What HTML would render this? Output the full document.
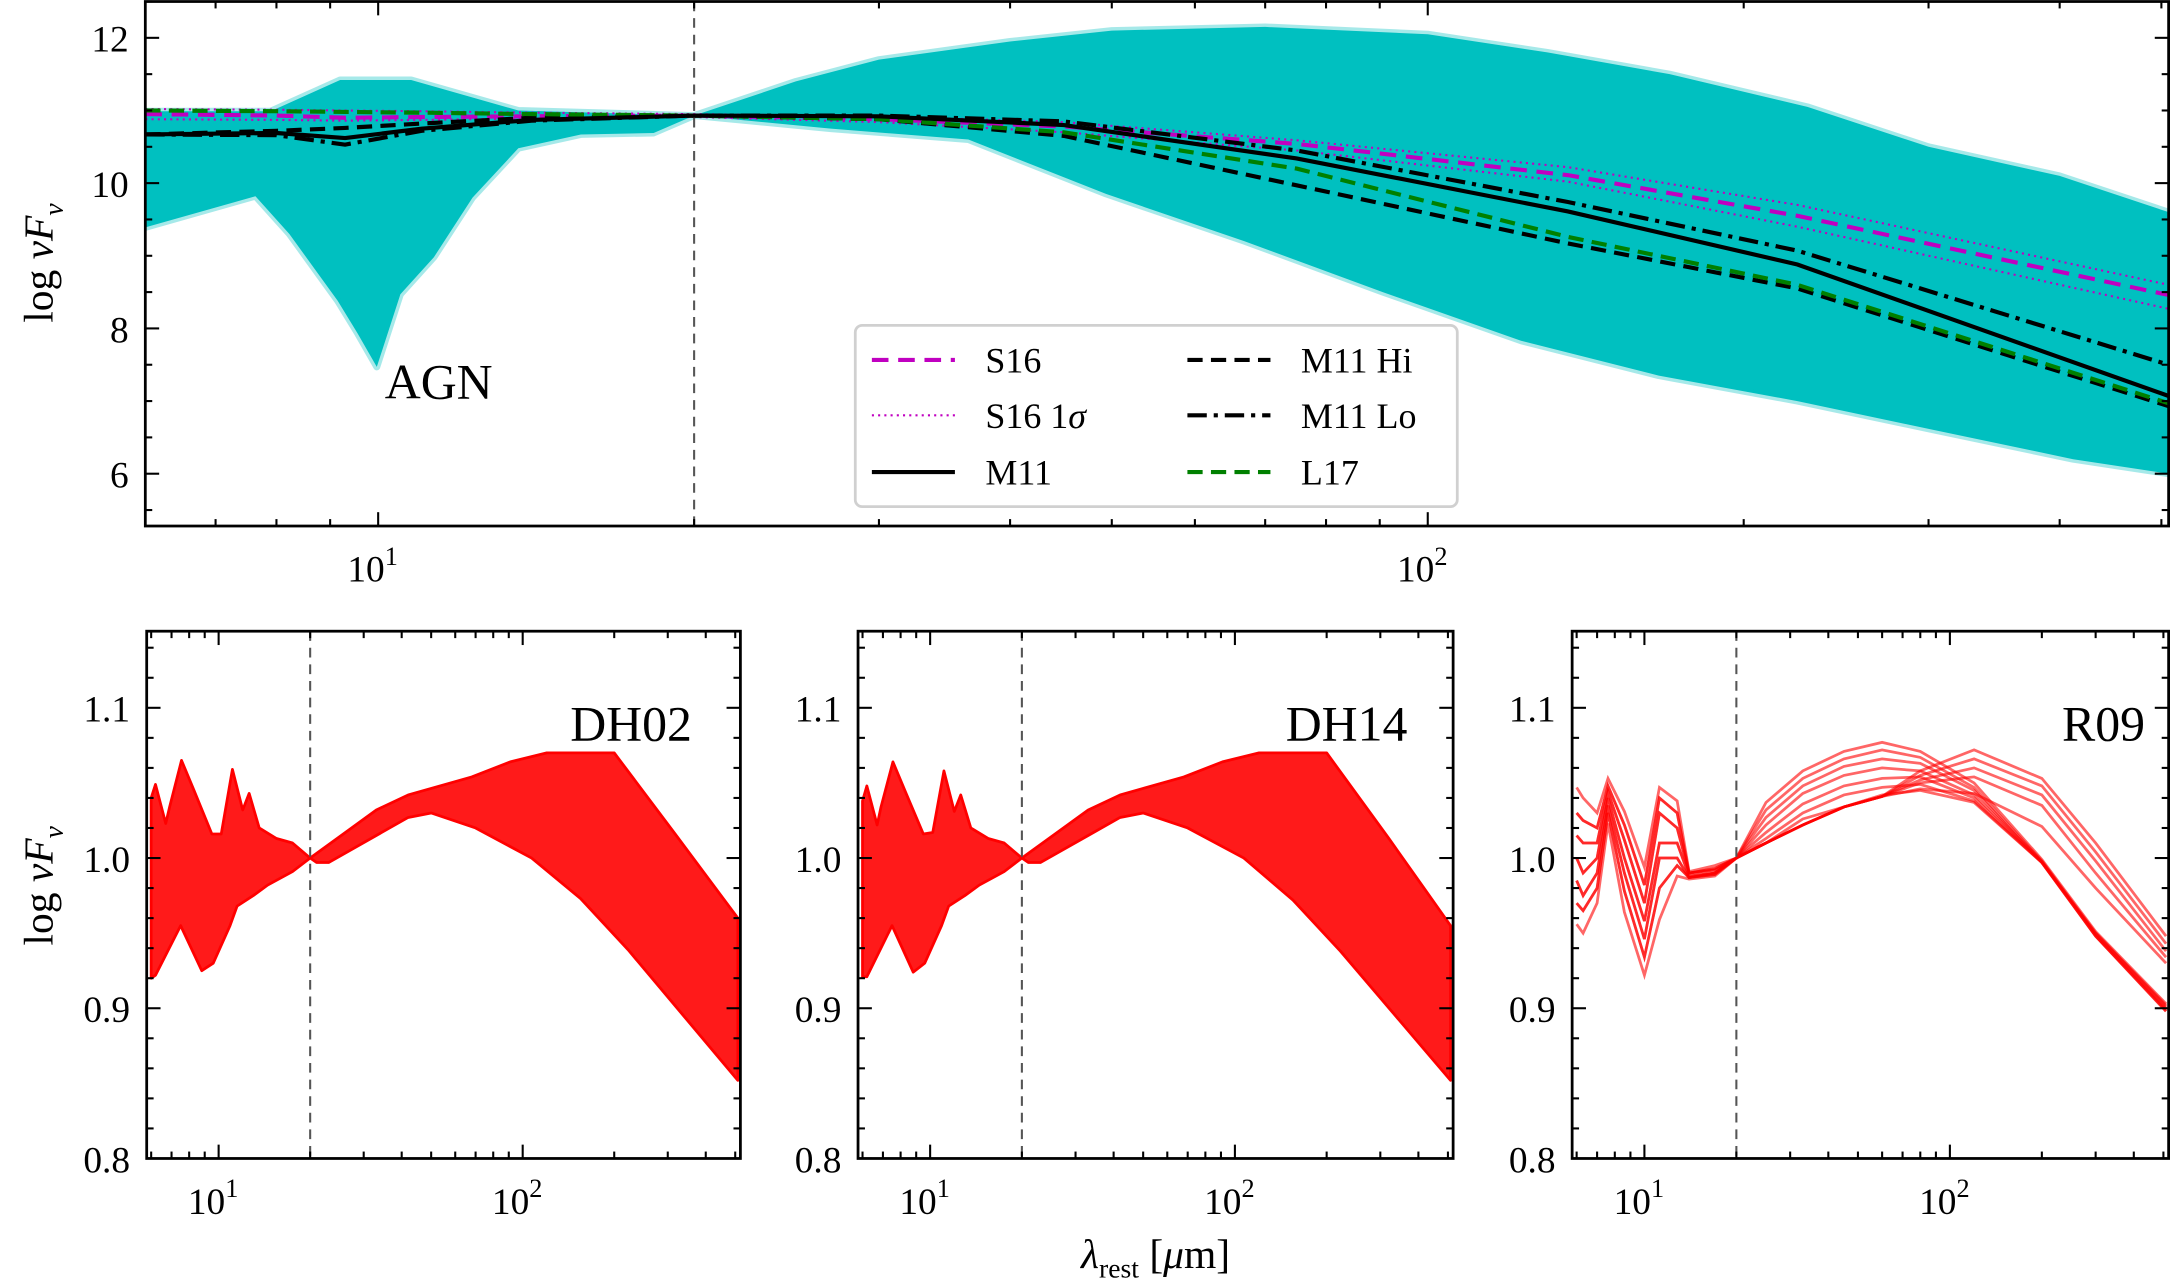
<!DOCTYPE html>
<html><head><meta charset="utf-8"><style>
html,body{margin:0;padding:0;background:#fff;}
svg{display:block;font-family:"Liberation Serif","DejaVu Serif",serif;}
</style></head><body>
<svg id="fig" xmlns="http://www.w3.org/2000/svg" width="2170" height="1279" viewBox="0 0 1568 924"></svg>
<script>
// ---------- data: top (AGN) panel ----------
const agnUpperLam = [6,7.9,9.2,10.75,13.6,20,25,30,40,50,70,100,130,170,230,300,400,508];
const agnUpperVal = [10.99,10.99,11.42,11.42,11.0,10.93,11.4,11.7,11.95,12.1,12.15,12.05,11.8,11.5,11.05,10.5,10.1,9.6];
const agnLowerLam = [6,7.64,8.23,9.15,9.56,9.97,10.5,11.3,12.3,13.6,15.6,18.3,20,27,36.5,49.4,66.9,90.6,122.7,166,225,304,412,508];
const agnLowerVal = [9.39,9.82,9.3,8.38,7.93,7.47,8.47,8.98,9.8,10.48,10.67,10.69,10.93,10.75,10.6,9.85,9.2,8.5,7.83,7.35,7.0,6.6,6.2,6.0];
const lineLam = [6,8,9.3,11,14,20,30,45,75,136,225,508];
const s16 =   [10.95,10.93,10.9,10.91,10.92,10.93,10.88,10.78,10.54,10.11,9.55,8.46];
const s16Hi = [11.02,11.01,11.0,10.99,10.97,10.95,10.92,10.84,10.59,10.22,9.7,8.6];
const s16Lo = [10.88,10.87,10.86,10.87,10.89,10.91,10.84,10.7,10.45,10.02,9.4,8.27];
const m11 =   [10.67,10.69,10.62,10.75,10.87,10.93,10.92,10.8,10.34,9.61,8.88,7.07];
const m11Lo = [10.67,10.66,10.53,10.72,10.86,10.93,10.93,10.85,10.45,9.74,9.07,7.5];
const m11Hi = [10.67,10.72,10.76,10.82,10.9,10.93,10.88,10.65,9.97,9.17,8.55,6.93];
const l17 =   [11.0,10.99,10.98,10.97,10.95,10.93,10.88,10.7,10.2,9.26,8.6,6.97];
const topYTicks = [6,8,10,12];
const bottomYTicks = [0.8,0.9,1.0,1.1];
// ---------- data: DH02 / DH14 bands ----------
const dhUpperLam = [6,6.2,6.7,6.9,7.55,8.3,9.5,10.2,11.1,12,12.6,13.6,15.5,17.5,20,25.7,33,42,68,91,120,200,320,510];
const dh02UpperVal = [1.04,1.049,1.023,1.034,1.065,1.045,1.016,1.016,1.059,1.032,1.043,1.02,1.013,1.01,1.0,1.016,1.032,1.042,1.054,1.064,1.07,1.07,1.015,0.96];
const dhLowerLam = [6,6.2,7.5,8.8,9.6,10.9,11.5,13,14.5,17.5,20,21,23,27,33,42,50,70,107,155,222,510];
const dh02LowerVal = [0.92,0.922,0.955,0.925,0.93,0.955,0.968,0.975,0.982,0.991,1.0,0.997,0.997,1.005,1.015,1.027,1.03,1.02,1.0,0.973,0.939,0.852];
const dh14UpperVal = [1.038,1.048,1.022,1.034,1.064,1.044,1.016,1.017,1.058,1.031,1.042,1.02,1.013,1.01,1.0,1.016,1.032,1.042,1.054,1.064,1.07,1.07,1.013,0.955];
const dh14LowerVal = [0.921,0.921,0.955,0.924,0.93,0.955,0.968,0.975,0.982,0.991,1.0,0.997,0.997,1.005,1.015,1.027,1.03,1.02,1.0,0.972,0.938,0.852];
// ---------- data: R09 ----------
const r09Lam = [6,6.3,7.0,7.6,8.6,10,11.2,12.8,14,17,20,25,33,45,60,80,120,200,300,510];
const r09Lines = [
 [1.047,1.04,1.03,1.053,1.031,0.994,1.047,1.038,0.991,0.995,1.0,1.037,1.058,1.071,1.077,1.071,1.05,0.999,0.951,0.903],
 [1.03,1.025,1.02,1.048,1.022,0.982,1.04,1.03,0.99,0.993,1.0,1.032,1.053,1.066,1.072,1.067,1.047,0.998,0.95,0.902],
 [1.015,1.01,1.01,1.044,1.012,0.97,1.03,1.02,0.99,0.992,1.0,1.027,1.048,1.061,1.066,1.063,1.045,0.997,0.95,0.901],
 [1.0,0.99,1.0,1.04,1.0,0.958,1.01,1.01,0.988,0.99,1.0,1.022,1.043,1.055,1.06,1.058,1.042,0.998,0.949,0.9],
 [0.985,0.975,0.99,1.035,0.99,0.946,1.0,1.0,0.987,0.99,1.0,1.017,1.036,1.048,1.053,1.054,1.04,0.997,0.948,0.899],
 [0.97,0.965,0.98,1.03,0.978,0.934,0.98,0.995,0.987,0.989,1.0,1.013,1.03,1.042,1.047,1.049,1.038,0.997,0.948,0.898],
 [0.956,0.95,0.97,1.023,0.964,0.922,0.959,0.988,0.986,0.988,1.0,1.01,1.026,1.034,1.042,1.045,1.037,0.997,0.948,0.898],
 [1.03,1.025,1.02,1.048,1.022,0.982,1.04,1.03,0.99,0.993,1.0,1.01,1.022,1.034,1.041,1.058,1.072,1.053,1.01,0.948],
 [1.015,1.01,1.01,1.044,1.012,0.97,1.03,1.02,0.99,0.992,1.0,1.01,1.022,1.034,1.041,1.055,1.066,1.048,1.004,0.943],
 [1.0,0.99,1.0,1.04,1.0,0.958,1.01,1.01,0.988,0.99,1.0,1.01,1.022,1.034,1.041,1.052,1.06,1.042,0.998,0.938],
 [0.985,0.975,0.99,1.035,0.99,0.946,1.0,1.0,0.987,0.99,1.0,1.01,1.022,1.034,1.041,1.05,1.054,1.035,0.99,0.934],
 [0.97,0.965,0.98,1.03,0.978,0.934,0.98,0.995,0.987,0.989,1.0,1.01,1.022,1.034,1.041,1.046,1.043,1.021,0.98,0.93]
];

const NS="http://www.w3.org/2000/svg";
const svgRoot=document.getElementById('fig');
function mk(tag,attrs,parent){const e=document.createElementNS(NS,tag);for(const k in attrs)e.setAttribute(k,attrs[k]);(parent||svgRoot).appendChild(e);return e;}
function makeAxes(x0,x1,y0,y1,xmin,xmax,ymin,ymax){
  const lx=v=>x0+(Math.log10(v)-Math.log10(xmin))/(Math.log10(xmax)-Math.log10(xmin))*(x1-x0);
  const ly=v=>y1-(v-ymin)/(ymax-ymin)*(y1-y0);
  return {sx:lx,sy:ly,x0:x0,x1:x1,y0:y0,y1:y1,xmin:xmin,xmax:xmax};
}
function pathD(ax,lam,val){return lam.map((l,i)=>(i?'L':'M')+ax.sx(l).toFixed(2)+','+ax.sy(val[i]).toFixed(2)).join('');}
function drawFrame(ax,name,yticks,minorStep,ymin,ymax,fmt,showXLabels){
  const g=mk('g',{});
  
  
  const clip=mk('clipPath',{id:'clip-'+name},g);
  mk('rect',{x:ax.x0,y:ax.y0,width:ax.x1-ax.x0,height:ax.y1-ax.y0},clip);
  for(let d=1;d<=100;d*=10){for(let m=1;m<10;m++){const v=d*m;if(v<ax.xmin||v>ax.xmax)continue;
    const x=ax.sx(v);const L=(m===1)?10:5;
    mk('line',{x1:x,y1:ax.y1,x2:x,y2:ax.y1-L,stroke:'#000','stroke-width':1.5},g);
    mk('line',{x1:x,y1:ax.y0,x2:x,y2:ax.y0+L,stroke:'#000','stroke-width':1.5},g);
    if(m===1&&showXLabels){const t=mk('text',{x:x-4,y:ax.y1+40,'font-size':27,'text-anchor':'middle'},g);
      t.textContent='10';const s=mk('tspan',{dy:-12,'font-size':19},t);s.textContent=(d===10?'1':'2');
      }
  }}
  for(let v=ymin;v<=ymax+1e-9;v+=minorStep){const y=ax.sy(v);
    const major=yticks.some(t=>Math.abs(t-v)<1e-6);const L=major?10:5;
    mk('line',{x1:ax.x0,y1:y,x2:ax.x0+L,y2:y,stroke:'#000','stroke-width':1.5},g);
    mk('line',{x1:ax.x1,y1:y,x2:ax.x1-L,y2:y,stroke:'#000','stroke-width':1.5},g);
  }
  yticks.forEach(v=>{const t=mk('text',{x:ax.x0-12,y:ax.sy(v)+10,'font-size':27,'text-anchor':'end'},g);t.textContent=fmt(v);
    });
  mk('rect',{x:ax.x0,y:ax.y0,width:ax.x1-ax.x0,height:ax.y1-ax.y0,fill:'none',stroke:'#000','stroke-width':2},g);
  return g;
}
function vdash(ax,g){mk('line',{x1:ax.sx(20),y1:ax.y0,x2:ax.sx(20),y2:ax.y1,stroke:'#555','stroke-width':1.5,'stroke-dasharray':'7,5'},g);}

// ---------- top panel ----------
const topAx=makeAxes(105,1567,1,380,6,508,5.28,12.5);
const topFrame=drawFrame(topAx,'agn',topYTicks,0.5,5.5,12.5,v=>String(v),true);
const topPlot=mk('g',{'clip-path':'url(#clip-agn)'});


svgRoot.insertBefore(topPlot,topFrame);
const bandD=pathD(topAx,agnUpperLam,agnUpperVal)+pathD(topAx,agnLowerLam.slice().reverse(),agnLowerVal.slice().reverse()).replace('M','L')+'Z';
const band=mk('path',{d:bandD,fill:'#00c0c0',stroke:'rgba(0,192,192,0.35)','stroke-width':5,'stroke-linejoin':'round'},topPlot);


const series=[
 ['s16-hi-line',s16Hi,'#c000c0',1.5,'1.5,3'],
 ['s16-lo-line',s16Lo,'#c000c0',1.5,'1.5,3'],
 ['s16-line',s16,'#c000c0',3,'12,7'],
 ['m11-hi-line',m11Hi,'#000',3,'11,6'],
 ['l17-line',l17,'#008000',3,'11,6'],
 ['m11-lo-line',m11Lo,'#000',3,'14,5,3,5'],
 ['m11-line',m11,'#000',3,'none']];
series.forEach(s=>{const p=mk('path',{d:pathD(topAx,lineLam,s[1]),fill:'none',stroke:s[2],'stroke-width':s[3],'stroke-dasharray':s[4]},topPlot);
  });
vdash(topAx,topPlot);
const agnT=mk('text',{x:317,y:288,'font-size':36,'text-anchor':'middle'});agnT.textContent='AGN';

const ylab1=mk('text',{x:38,y:190,'font-size':30,'text-anchor':'middle',transform:'rotate(-90 38 190)'});

ylab1.innerHTML='log <tspan font-style="italic">νF</tspan><tspan font-style="italic" font-size="20" dy="7">ν</tspan>';

// legend
const lg=mk('g',{});


mk('rect',{x:618,y:235,width:435,height:131,rx:5,fill:'rgba(255,255,255,0.85)',stroke:'#d0d0d0','stroke-width':2},lg);
const legItems=[['S16','#c000c0',3,'12,7',630,260],['S16 1σ','#c000c0',1.5,'1.5,3',630,300],['M11','#000',3,'none',630,341],
 ['M11 Hi','#000',3,'11,6',858,260],['M11 Lo','#000',3,'14,5,3,5',858,300],['L17','#008000',3,'11,6',858,341]];
legItems.forEach(e=>{const it=mk('g',{},lg);
  
  mk('line',{x1:e[4],y1:e[5],x2:e[4]+60,y2:e[5],stroke:e[1],'stroke-width':e[2],'stroke-dasharray':e[3]},it);
  const t=mk('text',{x:e[4]+82,y:e[5]+9,'font-size':26},it);
  if(e[0]==='S16 1σ'){t.innerHTML='S16 1<tspan font-style="italic">σ</tspan>';}else t.textContent=e[0];});

// ---------- bottom panels ----------
function dhPanel(name,x0,x1,upV,loV,label,labelX){
  const ax=makeAxes(x0,x1,456,837,5.8,520,0.8,1.151);
  const fg=drawFrame(ax,name,bottomYTicks,0.02,0.8,1.15,v=>v.toFixed(1),true);
  const pg=mk('g',{'clip-path':'url(#clip-'+name+')'});
  
  svgRoot.insertBefore(pg,fg);
  const d=pathD(ax,dhUpperLam,upV)+pathD(ax,dhLowerLam.slice().reverse(),loV.slice().reverse()).replace('M','L')+'Z';
  const b=mk('path',{d:d,fill:'#ff1a1a',stroke:'#ff0000','stroke-width':2,'stroke-linejoin':'round'},pg);
  
  vdash(ax,pg);
  const t=mk('text',{x:labelX,y:535,'font-size':36,'text-anchor':'end'});t.textContent=label;
  
  return ax;
}
dhPanel('dh02',106,535,dh02UpperVal,dh02LowerVal,'DH02',500);
dhPanel('dh14',620,1050,dh14UpperVal,dh14LowerVal,'DH14',1017);
const r09Ax=makeAxes(1136,1567,456,837,5.8,520,0.8,1.151);
const r09Frame=drawFrame(r09Ax,'r09',bottomYTicks,0.02,0.8,1.15,v=>v.toFixed(1),true);
const rg=mk('g',{'clip-path':'url(#clip-r09)'});

svgRoot.insertBefore(rg,r09Frame);
r09Lines.forEach(v=>{const p=mk('path',{d:pathD(r09Ax,r09Lam,v),fill:'none',stroke:'rgba(255,0,0,0.6)','stroke-width':2},rg);
  });
vdash(r09Ax,rg);
const rt=mk('text',{x:1550,y:535,'font-size':36,'text-anchor':'end'});rt.textContent='R09';


const ylab2=mk('text',{x:38,y:640,'font-size':30,'text-anchor':'middle',transform:'rotate(-90 38 640)'});

ylab2.innerHTML='log <tspan font-style="italic">νF</tspan><tspan font-style="italic" font-size="20" dy="7">ν</tspan>';
const xlab=mk('text',{x:835,y:916,'font-size':30,'text-anchor':'middle'});

xlab.innerHTML='<tspan font-style="italic">λ</tspan><tspan font-size="20" dy="7">rest</tspan><tspan dy="-7"> [</tspan><tspan font-style="italic">μ</tspan>m]';
</script>
</body></html>
